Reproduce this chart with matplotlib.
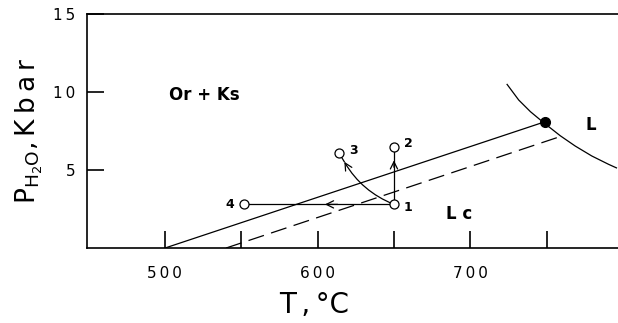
import matplotlib.pyplot as plt
from matplotlib.patches import FancyArrowPatch

# boundary lines
solid_T = [500, 749]
solid_P = [0, 8.1]
dash_T = [540, 760.5]
dash_P = [0, 7.2]
# liquidus curve
curve_T = [724.1, 731.7, 739.4, 748.0, 758.9, 768.7, 779.6, 790.5, 795.7]
curve_P = [10.49, 9.49, 8.74, 8.04, 7.2, 6.54, 5.9, 5.37, 5.14]
invariant = (749, 8.1)

# experiment points
pts_T = [650, 650, 614, 552]
pts_P = [2.8, 6.5, 6.1, 2.8]
pts_lab = ['1', '2', '3', '4']

xticks = [500, 550, 600, 650, 700, 750]
xticklabels = ['500', '', '600', '', '700', '']
yticks = [5, 10, 15]
yticklabels = ['5', '10', '15']

fig = plt.figure(figsize=(6.18, 3.23), dpi=100)
ax = fig.add_axes([0.1408, 0.232, 0.8673, 0.7245])
ax.set_xlim(449, 800)
ax.set_ylim(0, 15)

ax.plot(solid_T, solid_P, color='black', lw=0.9)
ax.plot(dash_T, dash_P, color='black', lw=0.9, dashes=(13, 6))
ax.plot(curve_T, curve_P, color='black', lw=0.9)
ax.plot(*invariant, 'o', color='black', ms=7)

# paths from point 1
x1, y1 = pts_T[0], pts_P[0]
ax.plot([x1, pts_T[1]], [y1, pts_P[1]], color='black', lw=0.9)
ax.plot([x1, pts_T[3]], [y1, pts_P[3]], color='black', lw=0.9)
ax.annotate('', xy=(650, 5.8), xytext=(650, 5.0),
            arrowprops=dict(arrowstyle='->', lw=0.9, color='black', mutation_scale=13))
ax.annotate('', xy=(603, 2.8), xytext=(615, 2.8),
            arrowprops=dict(arrowstyle='->', lw=0.9, color='black', mutation_scale=13))
arc = FancyArrowPatch((x1, y1), (617.5, 5.53), connectionstyle='arc3,rad=-0.17',
                      arrowstyle='->', mutation_scale=13, lw=0.9, color='black',
                      shrinkA=0, shrinkB=0)
ax.add_patch(arc)
ax.plot([617.5, pts_T[2]], [5.53, pts_P[2]], color='black', lw=0.9)

ax.plot(pts_T, pts_P, 'o', mfc='white', mec='black', ms=6.5, mew=0.9)
offs = [(7, -2), (7, 2), (7, 2), (-7, 0)]
for t, p, s, o in zip(pts_T, pts_P, pts_lab, offs):
    ax.annotate(s, (t, p), xytext=o, textcoords='offset points',
                ha='left' if o[0] > 0 else 'right', va='center',
                fontsize=9, fontweight='bold')

ax.text(525.5, 9.8, 'Or + Ks', fontsize=12, fontweight='bold', ha='center', va='center')
ax.text(693, 2.2, 'L c', fontsize=12, fontweight='bold', ha='center', va='center')
ax.text(779, 7.9, 'L', fontsize=12, fontweight='bold', ha='center', va='center')

ax.spines['right'].set_visible(False)
for s in ['left', 'top', 'bottom']:
    ax.spines[s].set_linewidth(1.2)
ax.set_xticks(xticks)
ax.set_xticklabels(['\u2009'.join(l) for l in xticklabels], fontsize=11)
ax.set_yticks(yticks)
ax.set_yticklabels(['\u2009'.join(l) for l in yticklabels], fontsize=11)
ax.tick_params(direction='in', length=12, width=1.2)
ax.tick_params(axis='x', pad=13)
ax.tick_params(axis='y', pad=8.5)

ax.set_xlabel('T\u2009,\u2009°C', fontsize=20, labelpad=7)
ax.xaxis.label.set_x(0.4245)
ax.set_ylabel('P$_{\\mathregular{H_2O}}$,\u2009K\u2009b\u2009a\u2009r', fontsize=19, labelpad=6)

fig.savefig('out.png', dpi=100)
